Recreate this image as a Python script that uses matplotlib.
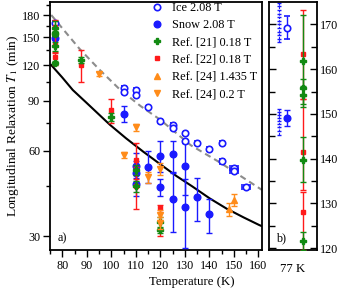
"""
T1 vs temperature, main panel (log y) plus the 77 K detail panel
"""
import matplotlib
matplotlib.use('Agg')
import matplotlib.pyplot as plt
from matplotlib.ticker import FixedLocator, NullFormatter, ScalarFormatter

plt.rcParams['font.family'] = ['Liberation Serif', 'DejaVu Serif']
plt.rcParams['mathtext.fontset'] = 'stix'
plt.rcParams['font.size'] = 8.5

# Ice 2.08 T (open circles)
ice_T = [77, 105, 105, 110, 110, 115, 120, 125, 125, 130, 130, 135, 140, 145, 145, 150, 150, 155]
ice_T1 = [169.3, 100.0, 96.4, 98.2, 94.1, 85.2, 76.0, 73.8, 71.8, 68.9, 64.6, 63.7, 60.7, 64.0, 55.0, 52.1, 50.9, 44.7]
ice_err = [2.6, 1.2, 1.2, 1.2, 1.2, 1.2, 1.0, 1.0, 1.0, 1.0, 1.0, 1.0, 1.0, 1.0, 1.0, 1.0, 1.0, 0.8]
ice_xerr = [0, 0.5, 0.5, 0.5, 0.5, 0.5, 0.5, 0.5, 0.5, 0.5, 0.5, 0.5, 0.5, 0.8, 0.8, 1.6, 1.6, 1.6]

# Snow 2.08 T (filled circles)
snow_T = [77, 105, 110, 110, 110, 115, 120, 120, 125, 125, 130, 130, 135, 140]
snow_T1 = [149.1, 81.0, 53.0, 50.2, 45.6, 52.6, 57.2, 44.7, 58.2, 40.5, 53.0, 37.9, 41.1, 35.8]
snow_lo = [1.9, 5.2, 5.0, 5.0, 4.0, 6.4, 6.9, 3.3, 8.0, 9.6, 11.0, 10.6, 7.1, 5.0]
snow_hi = [1.8, 5.2, 5.6, 5.0, 4.0, 7.2, 7.4, 2.9, 6.4, 10.0, 11.0, 9.9, 7.0, 4.7]

# Ref. [21] 0.18 T
r21_T = [77, 77, 77, 77, 77, 87.5, 100, 110, 110, 120, 120]
r21_T1 = [161.8, 155.9, 154.3, 139.8, 121.7, 125.3, 79.0, 51.3, 44.9, 33.5, 31.5]
r21_err = [10.3, 2.0, 2.0, 5.0, 2.0, 3.0, 2.5, 2.0, 2.0, 1.5, 0.8]

# Ref. [22] 0.18 T
r22_T = [77, 77, 77, 87.5, 100, 110, 110, 120]
r22_T1 = [163.3, 141.5, 128.0, 120.0, 83.2, 55.6, 45.0, 37.7]
r22_lo = [10.0, 8.5, 8.4, 15.1, 8.1, 8.0, 7.6, 7.7]
r22_hi = [10.0, 11.8, 4.5, 15.9, 8.2, 8.4, 7.6, 1.0]

# Ref. [24] 1.435 T
r24a_T = [148, 150]
r24a_T1 = [37.3, 40.3]
r24a_err = [1.9, 2.0]

# Ref. [24] 0.2 T
r24b_T = [95, 105, 110, 115, 120, 120, 120]
r24b_T1 = [111.6, 58.0, 72.4, 48.3, 51.6, 35.6, 33.4]
r24b_err = [1.5, 1.5, 2.0, 2.0, 2.5, 1.5, 1.5]

# model curves
fit_T = [75.5, 80, 84.3, 90, 99.4, 106, 113, 120, 126.6, 133, 140.2, 147, 154, 160.4, 161.5]
fit_T1 = [120, 108.5, 98, 88.2, 74, 66.3, 59.5, 53.7, 48.8, 44.9, 40.7, 37.5, 34.9, 32.8, 32.5]
dash_T = [75.5, 87, 95, 103.4, 112, 120, 132.5, 144.3, 152, 161.5]
dash_T1 = [180, 137, 116, 98.6, 86, 77, 62.6, 54.5, 49.3, 43.6]

# panel b: single runs at 77 K
run_ice = [174.8, 174.0, 173.2, 172.4, 171.6, 170.8, 170.0, 169.2, 168.4, 167.6, 166.8, 166.0]
run_snow = [151.2, 150.5, 149.8, 149.1, 148.4, 147.7, 147.0, 146.2, 145.4]

BLUE = '#1a1aff'
GREEN = '#128a12'
RED = '#ff1a1a'
ORANGE = '#ff8c1a'

fig = plt.figure(figsize=(3.42, 2.92), dpi=100)
ax = fig.add_axes([50/342, 42/292, 212/342, 248/292])
axb = fig.add_axes([269/342, 42/292, 48/342, 248/292])

ax.plot(fit_T, fit_T1, color='black', lw=1.5, zorder=2)
ax.plot(dash_T, dash_T1, color='#8c8c8c', lw=1.5, ls=(0, (3, 2)), zorder=2)

eb_kw = dict(ls='none', capsize=2.0, elinewidth=1.0, capthick=1.0)
h_ice = ax.errorbar(ice_T, ice_T1, yerr=ice_err, xerr=ice_xerr, fmt='o', ms=4.6,
                    mfc='white', mec=BLUE, mew=1.2, color=BLUE, zorder=4, **eb_kw)
h_snow = ax.errorbar(snow_T, snow_T1, yerr=[snow_lo, snow_hi], fmt='o', ms=4.8,
                     color=BLUE, zorder=4, **eb_kw)
h_r21 = ax.errorbar(r21_T, r21_T1, yerr=r21_err, fmt='P', ms=3.8,
                    color=GREEN, zorder=6, **eb_kw)
h_r22 = ax.errorbar(r22_T, r22_T1, yerr=[r22_lo, r22_hi], fmt='s', ms=3.2,
                    color=RED, zorder=5, **eb_kw)
h_r24a = ax.errorbar(r24a_T, r24a_T1, yerr=r24a_err, fmt='^', ms=4.0,
                     color=ORANGE, zorder=7, **eb_kw)
h_r24b = ax.errorbar(r24b_T, r24b_T1, yerr=r24b_err, fmt='v', ms=4.0,
                     color=ORANGE, zorder=7, **eb_kw)

ax.set_xlim(75, 161.5)
ax.set_yscale('log')
ax.set_ylim(26.8, 200)
ax.yaxis.set_major_locator(FixedLocator([30, 60, 90, 120, 150, 180]))
ax.yaxis.set_minor_locator(FixedLocator([45, 75, 105, 135, 165, 195]))
ax.yaxis.set_major_formatter(ScalarFormatter())
ax.yaxis.set_minor_formatter(NullFormatter())
ax.xaxis.set_major_locator(FixedLocator(range(80, 161, 10)))
ax.xaxis.set_minor_locator(FixedLocator(range(75, 161, 5)))
ax.tick_params(which='both', direction='out', width=1.0, labelsize=8.7, pad=2)
ax.tick_params(which='major', length=5)
ax.tick_params(which='minor', length=3)
for s in ax.spines.values():
    s.set_linewidth(1.3)

ax.set_ylabel(r'Longitudinal Relaxation $T_1$ (min)', fontsize=9.7, labelpad=1)
fig.text(192/342, 1 - 282/292, 'Temperature (K)', ha='center', va='center', fontsize=9.2)
ax.text(0.035, 0.035, 'a)', transform=ax.transAxes, fontsize=8.7)

ax.legend([h_ice[0], h_snow[0], h_r21[0], h_r22[0], h_r24a[0], h_r24b[0]],
          ['Ice 2.08 T', 'Snow 2.08 T', 'Ref. [21] 0.18 T', 'Ref. [22] 0.18 T',
           'Ref. [24] 1.435 T', 'Ref. [24] 0.2 T'],
          loc='upper left', bbox_to_anchor=(98/212, 1.01), frameon=False,
          fontsize=8.8, handlelength=1.0, handletextpad=0.75, labelspacing=0.43,
          borderpad=0.2, borderaxespad=0)

# panel b: 77 K only
x_run, x_avg, x_ref = 0.21, 0.38, 0.70
axb.plot([x_run] * len(run_ice), run_ice, color=BLUE, lw=0.8, ls=(0, (2, 1)),
         marker='_', ms=3)
axb.plot([x_run] * len(run_snow), run_snow, color=BLUE, lw=0.8, ls=(0, (2, 1)),
         marker='_', ms=3)
axb.errorbar([x_avg], [ice_T1[0]], yerr=[ice_err[0]], fmt='o', ms=4.6, mfc='white',
             mec=BLUE, mew=1.2, color=BLUE, **eb_kw)
axb.errorbar([x_avg], [snow_T1[0]], yerr=[[snow_lo[0]], [snow_hi[0]]], fmt='o', ms=4.8,
             color=BLUE, **eb_kw)
n22 = r22_T.count(77)
axb.errorbar([x_ref] * n22, r22_T1[:n22], yerr=[r22_lo[:n22], r22_hi[:n22]], fmt='s',
             ms=3.2, color=RED, zorder=3, **eb_kw)
n21 = r21_T.count(77)
axb.errorbar([x_ref] * n21, r21_T1[:n21], yerr=r21_err[:n21], fmt='P', ms=3.8,
             color=GREEN, zorder=4, **eb_kw)

axb.set_xlim(0, 1)
axb.set_ylim(119.6, 175)
axb.set_xticks([])
axb.yaxis.tick_right()
axb.yaxis.set_major_locator(FixedLocator([120, 130, 140, 150, 160, 170]))
axb.yaxis.set_minor_locator(FixedLocator([125, 135, 145, 155, 165]))
axb.tick_params(axis='y', which='both', left=True, right=True, direction='in',
                width=1.0, labelsize=8.7, pad=2)
axb.tick_params(axis='y', which='major', length=5)
axb.tick_params(axis='y', which='minor', length=4)
for s in axb.spines.values():
    s.set_linewidth(1.3)
axb.set_xlabel('77 K', fontsize=9.2, labelpad=9)
axb.text(0.15, 0.035, 'b)', transform=axb.transAxes, fontsize=8.7)

fig.savefig('out.png', dpi=100)
